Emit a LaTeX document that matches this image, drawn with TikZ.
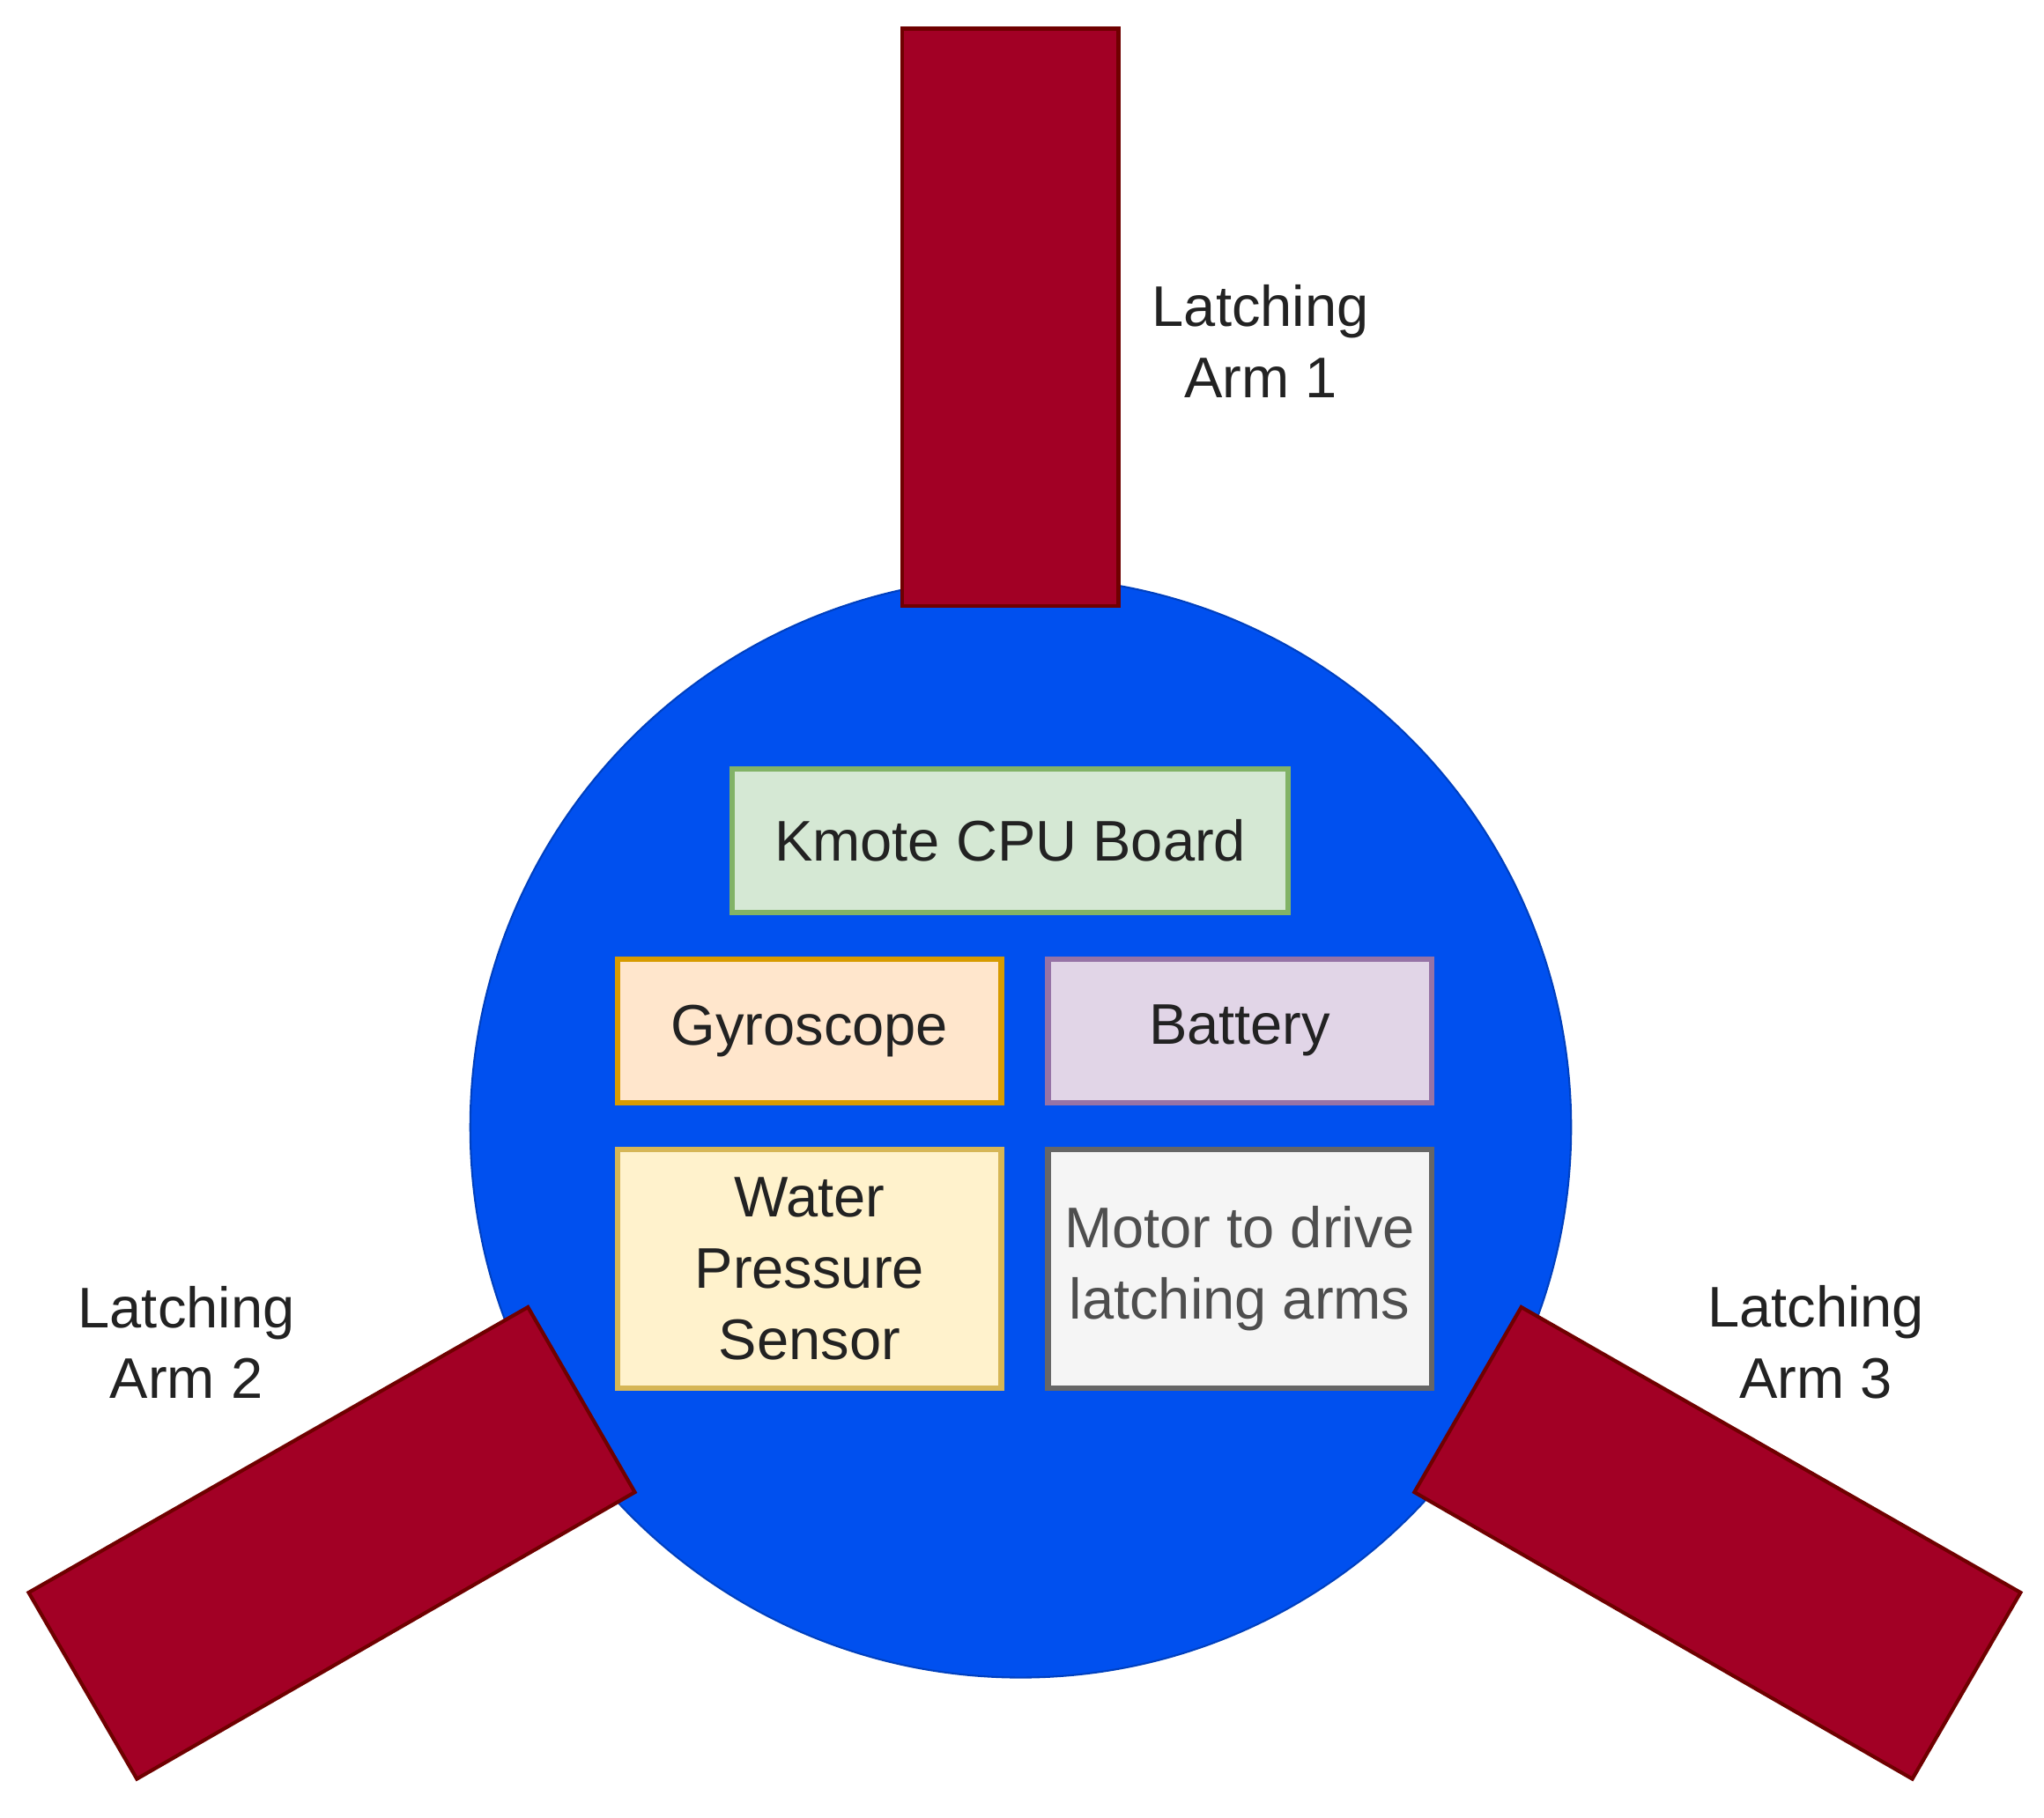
\documentclass[tikz,border=0pt]{standalone}
\usepackage{fontspec}
\setmainfont{Liberation Sans}
\definecolor{cblue}{HTML}{0050EF}
\definecolor{carm}{HTML}{A20025}
\definecolor{carmd}{HTML}{6F0000}
\definecolor{txt}{HTML}{222222}
\begin{document}
\begin{tikzpicture}[x=0.01cm,y=-0.01cm,
  box/.style={draw,line width=1.2pt,minimum width=2.94cm,align=center,text=txt,font=\fontsize{12.5}{15.5}\selectfont},
  lab/.style={align=center,text=txt,font=\fontsize{12.5}{15.5}\selectfont},
  arm/.style={fill=carm,draw=carmd,line width=0.8pt}]
\useasboundingbox (0,0) rectangle (1568,1395);
\node[circle,fill=cblue,draw=cblue!80!black,minimum size=8.44cm,inner sep=0] (body) at (783,865) {};
\draw[arm] (692,22) rectangle (858,465);
\draw[arm] (22,1222) -- (105,1365) -- (487,1145) -- (405,1003) -- cycle;
\draw[arm] (1085,1145) -- (1167,1003) -- (1550,1222) -- (1467,1365) -- cycle;
\node[box,fill={rgb,255:red,213;green,232;blue,212},draw={rgb,255:red,130;green,179;blue,102},minimum width=4.26cm,minimum height=1.1cm] (cpu) at (775,645) {Kmote CPU Board};
\node[box,fill={rgb,255:red,255;green,230;blue,204},draw={rgb,255:red,215;green,155;blue,0},minimum height=1.1cm] (gyro) at (621,791) {Gyroscope};
\node[box,fill={rgb,255:red,225;green,213;blue,231},draw={rgb,255:red,150;green,115;blue,166},minimum height=1.1cm] (bat) at (951,791) {Battery};
\node[box,fill={rgb,255:red,255;green,242;blue,204},draw={rgb,255:red,214;green,182;blue,86},minimum height=1.83cm] (water) at (621,973.5) {Water\\Pressure\\Sensor};
\node[box,fill={rgb,255:red,245;green,245;blue,245},draw={rgb,255:red,102;green,102;blue,102},minimum height=1.83cm,text=txt!80] (motor) at (951,973.5) {Motor to drive\\latching arms};
\node[lab] (l1) at (967,262) {Latching\\Arm 1};
\node[lab] (l2) at (143,1030) {Latching\\Arm 2};
\node[lab] (l3) at (1393,1030) {Latching\\Arm 3};
\end{tikzpicture}
\end{document}
